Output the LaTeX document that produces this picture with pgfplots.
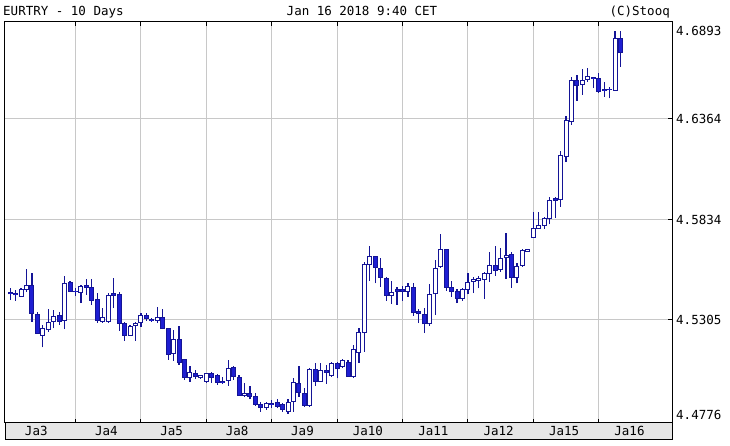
\documentclass[border=0pt]{standalone}
\usepackage{fontspec}
\setmainfont{DejaVu Sans Mono}
\usepackage{pgfplots}
\pgfplotsset{compat=1.18}
\usepackage{pgfplotstable}
\definecolor{edge}{RGB}{20,20,150}
\definecolor{bodyblue}{RGB}{30,30,210}
\definecolor{gridgray}{RGB}{200,200,200}
\definecolor{bandgray}{RGB}{230,230,230}
\newcommand{\tf}{\fontsize{12.5}{14}\selectfont}

% k O H L C  (rising candles, drawn hollow)
\pgfplotstableread{
k O H L C
2 4.5428 4.5472 4.5425 4.5467
3 4.5463 4.5572 4.5454 4.5489
6 4.5221 4.5279 4.5161 4.5261
7 4.5252 4.5361 4.5243 4.5296
8 4.5296 4.5358 4.5261 4.5328
10 4.5301 4.5537 4.5256 4.5502
13 4.5449 4.5489 4.5393 4.5484
17 4.5296 4.5367 4.5291 4.5319
18 4.5296 4.5446 4.5291 4.5437
22 4.5221 4.5279 4.5221 4.5273
23 4.5273 4.5296 4.5196 4.5291
24 4.5288 4.5340 4.5270 4.5331
27 4.5301 4.5372 4.5288 4.5322
30 4.5126 4.5252 4.5091 4.5203
33 4.4998 4.5063 4.4980 4.5033
35 4.4998 4.5015 4.4993 4.5015
36 4.4980 4.5027 4.4975 4.5024
40 4.4985 4.5094 4.4957 4.5051
43 4.4905 4.4975 4.4898 4.4922
47 4.4840 4.4875 4.4831 4.4866
51 4.4822 4.4887 4.4810 4.4875
52 4.4875 4.4998 4.4822 4.4980
55 4.4852 4.5051 4.4845 4.5045
57 4.4980 4.5080 4.4980 4.5042
59 4.5008 4.5085 4.5006 4.5080
61 4.5056 4.5098 4.5051 4.5094
63 4.5006 4.5173 4.4998 4.5151
64 4.5130 4.5264 4.5077 4.5243
65 4.5235 4.5612 4.5138 4.5599
66 4.5595 4.5697 4.5511 4.5642
70 4.5433 4.5511 4.5388 4.5454
73 4.5454 4.5498 4.5428 4.5484
77 4.5282 4.5493 4.5275 4.5440
78 4.5440 4.5621 4.5331 4.5581
79 4.5586 4.5757 4.5581 4.5679
83 4.5416 4.5472 4.5405 4.5467
84 4.5463 4.5551 4.5440 4.5507
85 4.5507 4.5533 4.5446 4.5521
86 4.5511 4.5538 4.5472 4.5525
87 4.5516 4.5560 4.5416 4.5551
88 4.5546 4.5665 4.5507 4.5595
90 4.5569 4.5686 4.5560 4.5633
91 4.5630 4.5762 4.5521 4.5648
93 4.5525 4.5604 4.5498 4.5591
94 4.5591 4.5679 4.5586 4.5674
95 4.5665 4.5679 4.5665 4.5679
96 4.5739 4.5876 4.5739 4.5791
97 4.5785 4.5872 4.5785 4.5806
98 4.5802 4.5849 4.5785 4.5841
99 4.5837 4.5955 4.5809 4.5937
101 4.5937 4.6196 4.5902 4.6174
102 4.6165 4.6381 4.6136 4.6359
103 4.6350 4.6587 4.6333 4.6570
105 4.6543 4.6628 4.6491 4.6570
106 4.6570 4.6631 4.6561 4.6592
111 4.6512 4.6828 4.6512 4.6792
}\bull

% k O H L C  (falling candles, drawn filled)
\pgfplotstableread{
k O H L C
0 4.5454 4.5472 4.5410 4.5440
1 4.5449 4.5463 4.5405 4.5435
4 4.5489 4.5551 4.5296 4.5337
5 4.5337 4.5349 4.5231 4.5231
9 4.5331 4.5349 4.5279 4.5296
11 4.5507 4.5512 4.5451 4.5451
12 4.5456 4.5472 4.5431 4.5452
14 4.5489 4.5519 4.5437 4.5472
15 4.5480 4.5519 4.5384 4.5407
16 4.5414 4.5446 4.5291 4.5301
19 4.5446 4.5525 4.5367 4.5431
20 4.5442 4.5454 4.5249 4.5284
21 4.5291 4.5296 4.5196 4.5221
25 4.5331 4.5343 4.5301 4.5309
26 4.5309 4.5314 4.5296 4.5301
28 4.5322 4.5361 4.5256 4.5256
29 4.5261 4.5261 4.5094 4.5121
31 4.5203 4.5273 4.5068 4.5077
32 4.5098 4.5098 4.4989 4.4998
34 4.5027 4.5042 4.4993 4.5003
37 4.5024 4.5033 4.4975 4.4998
38 4.5015 4.5020 4.4963 4.4975
39 4.4985 4.5006 4.4968 4.4972
41 4.5056 4.5063 4.4989 4.5003
42 4.5006 4.5015 4.4905 4.4905
44 4.4922 4.4957 4.4887 4.4898
45 4.4905 4.4919 4.4852 4.4857
46 4.4862 4.4875 4.4822 4.4840
48 4.4869 4.4884 4.4840 4.4857
49 4.4875 4.4887 4.4840 4.4848
50 4.4862 4.4869 4.4822 4.4831
53 4.4975 4.5063 4.4901 4.4922
54 4.4922 4.4945 4.4848 4.4852
56 4.5045 4.5080 4.4957 4.4980
58 4.5042 4.5068 4.4968 4.5027
60 4.5076 4.5084 4.4997 4.5045
62 4.5085 4.5094 4.5006 4.5006
67 4.5642 4.5642 4.5498 4.5581
68 4.5581 4.5630 4.5480 4.5528
69 4.5528 4.5533 4.5405 4.5433
71 4.5467 4.5480 4.5384 4.5454
72 4.5466 4.5484 4.5405 4.5454
74 4.5480 4.5498 4.5328 4.5340
75 4.5352 4.5363 4.5288 4.5335
76 4.5335 4.5367 4.5235 4.5282
80 4.5679 4.5679 4.5458 4.5475
81 4.5480 4.5511 4.5428 4.5451
82 4.5458 4.5468 4.5393 4.5416
89 4.5595 4.5697 4.5538 4.5563
92 4.5651 4.5662 4.5475 4.5528
100 4.5946 4.5955 4.5841 4.5932
104 4.6570 4.6596 4.6459 4.6540
107 4.6587 4.6587 4.6526 4.6575
108 4.6579 4.6605 4.6500 4.6508
109 4.6522 4.6557 4.6482 4.6513
110 4.6520 4.6534 4.6473 4.6515
112 4.6792 4.6828 4.6640 4.6710
}\bear

\pgfplotsset{
  wick/.style={draw=none, mark=none, forget plot,
    error bars/.cd, y dir=plus, y explicit, error mark=none,
    error bar style={draw=edge, line width=1.2pt}},
  body/.style={draw=none, mark=none, forget plot,
    error bars/.cd, y dir=plus, y explicit, error mark=none,
    error bar style={draw=#1, line width=5pt}},
  inner/.style={draw=none, mark=none, forget plot,
    error bars/.cd, y dir=plus, y explicit, error mark=none,
    error bar style={draw=#1, line width=3pt}},
}

\begin{document}
\begin{tikzpicture}[x=1pt,y=1pt]
\useasboundingbox (0,0) rectangle (730,446);
\fill[bandgray] (5,6) rectangle (672,23);
\draw[black, line width=1pt] (5,6) rectangle (672,23);
\node[anchor=base west, inner sep=0pt, font=\tf] at (3,430) {EURTRY - 10 Days};
\node[anchor=base, inner sep=0pt, font=\tf] at (362,430) {Jan 16 2018 9:40 CET};
\node[anchor=base east, inner sep=0pt, font=\tf] at (670,430) {(C)Stooq};
\node[anchor=west, inner sep=0pt, font=\tf] at (676,415) {4.6893};
\node[anchor=west, inner sep=0pt, font=\tf] at (676,31) {4.4776};
\begin{axis}[
  at={(5pt,23pt)}, anchor=south west,
  scale only axis, width=667pt, height=401pt,
  xmin=-0.94, xmax=121.45, ymin=4.4762, ymax=4.6875,
  axis line style={black, line width=1pt},
  xtick={12,24,...,108}, xticklabels={},
  ytick={4.5305,4.5834,4.6364},
  yticklabels={4.5305,4.5834,4.6364},
  ytick pos=right, yticklabel pos=right,
  yticklabel style={anchor=west, inner sep=0pt, xshift=4pt, font=\tf},
  grid=major,
  major grid style={draw=gridgray, line width=1pt},
  tick align=inside, major tick length=4pt,
  tick style={black, line width=1pt},
  extra x ticks={4.8,17.65,29.65,41.65,53.65,65.65,77.65,89.65,101.65,113.65},
  extra x tick labels={Ja3,Ja4,Ja5,Ja8,Ja9,Ja10,Ja11,Ja12,Ja15,Ja16},
  extra x tick style={grid=none, major tick length=0pt,
    xticklabel style={anchor=base, inner sep=0pt, yshift=-13pt, font=\tf}},
]
\addplot[wick] table[x=k, y=L, y error plus expr={\thisrow{H}-\thisrow{L}}] {\bull};
\addplot[wick] table[x=k, y=L, y error plus expr={\thisrow{H}-\thisrow{L}}] {\bear};
\addplot[body=edge] table[x=k, y expr={min(\thisrow{O},\thisrow{C})}, y error plus expr={abs(\thisrow{C}-\thisrow{O})}] {\bull};
\addplot[body=edge] table[x=k, y expr={min(\thisrow{O},\thisrow{C})}, y error plus expr={abs(\thisrow{C}-\thisrow{O})}] {\bear};
\addplot[inner=white] table[x=k, y expr={min(\thisrow{O},\thisrow{C})+0.00053}, y error plus expr={abs(\thisrow{C}-\thisrow{O})-0.00106}] {\bull};
\addplot[inner=bodyblue] table[x=k, y expr={min(\thisrow{O},\thisrow{C})+0.00053}, y error plus expr={abs(\thisrow{C}-\thisrow{O})-0.00106}] {\bear};
\end{axis}
\end{tikzpicture}
\end{document}
